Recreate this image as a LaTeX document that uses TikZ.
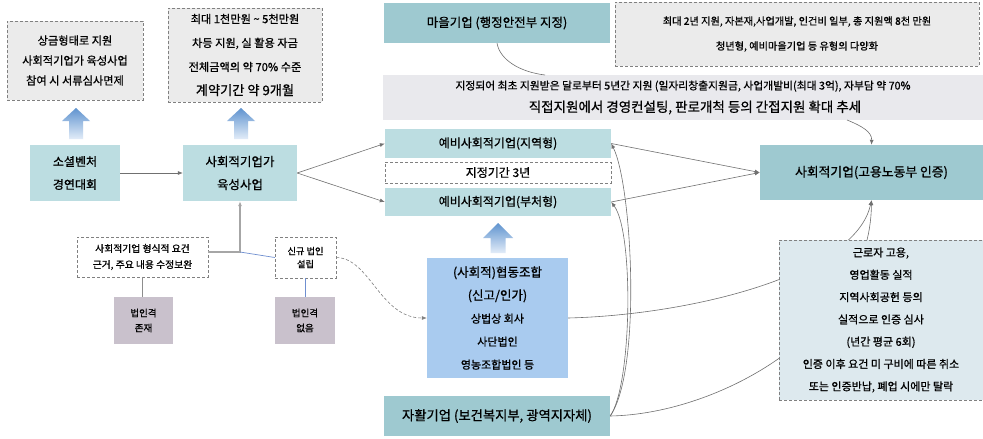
\documentclass[tikz,border=0pt]{standalone}
\usepackage{fontspec}
\setmainfont{Noto Sans CJK KR}[RawFeature={embolden=0.8}]
\usetikzlibrary{arrows.meta}
\definecolor{c-teal1}{HTML}{9EC9D0}
\definecolor{c-teal2}{HTML}{BCDDE1}
\definecolor{c-grey}{HTML}{EBEBEB}
\definecolor{c-banner}{HTML}{E9E9ED}
\definecolor{c-coop}{HTML}{A9CBEF}
\definecolor{c-lbox}{HTML}{DDE9EE}
\definecolor{c-purp}{HTML}{C9C1CC}
\definecolor{c-conn}{HTML}{707070}
\definecolor{c-bline}{HTML}{6F8FD0}
\definecolor{c-thick}{HTML}{A6A6A6}
\definecolor{c-atop}{HTML}{5F93CF}
\definecolor{c-abot}{HTML}{E2ECF8}
\definecolor{c-dash}{HTML}{808080}
\tikzset{
  box/.style={inner sep=0pt, align=center, text=black},
  dbox/.style={box, draw=c-dash, densely dashed, line width=0.5pt},
  link/.style={draw=c-conn, line width=0.6pt},
  arr/.style={-{Latex[length=5pt,width=4pt]}},
  thickline/.style={draw=c-thick, line width=1.6pt},
  blueline/.style={draw=c-bline, line width=0.7pt},
  uparrow/.style={top color=c-atop, bottom color=c-abot}
}
\begin{document}
\begin{tikzpicture}[x=1pt,y=-1pt]
\useasboundingbox (0,0) rectangle (983,439);
\fill[white] (0,0) rectangle (983,439);

% left column
\node[dbox, fill=c-grey, minimum width=136pt, minimum height=79pt, font=\fontsize{11.2}{20}\selectfont] (award) at (75,60.5) {상금형태로 지원\\사회적기업가 육성사업\\참여 시 서류심사면제};
\node[dbox, fill=c-grey, minimum width=154pt, minimum height=94pt, font=\fontsize{11.2}{24}\selectfont] (fund) at (245,55) {최대 1천만원 \textasciitilde{} 5천만원\\차등 지원, 실 활용 자금\\전체금액의 약 70\% 수준\\{\fontsize{13.2}{24}\selectfont 계약기간 약 9개월}};
\node[box, fill=c-teal2, minimum width=90pt, minimum height=56pt, font=\fontsize{12}{23}\selectfont] (sv) at (75,173) {소셜벤처\\경연대회};
\node[box, fill=c-teal2, minimum width=114pt, minimum height=56pt, font=\fontsize{12.5}{23}\selectfont] (yuk) at (240,173) {사회적기업가\\육성사업};
\node[dbox, fill=white, minimum width=131pt, minimum height=40pt, font=\fontsize{9.8}{16}\selectfont] (req) at (142.5,257) {사회적기업 형식적 요건\\근거, 주요 내용 수정보완};
\node[dbox, fill=white, minimum width=61pt, minimum height=41pt, font=\fontsize{9.2}{13}\selectfont] (new) at (305.5,257.5) {신규 법인\\설립};
\node[box, fill=c-purp, minimum width=59pt, minimum height=47pt, font=\fontsize{9.5}{15}\selectfont] (exist) at (143.5,320.5) {법인격\\존재};
\node[box, fill=c-purp, minimum width=60pt, minimum height=47pt, font=\fontsize{9.5}{15}\selectfont] (none) at (305,320.5) {법인격\\없음};

% middle column
\node[box, fill=c-teal1, minimum width=226pt, minimum height=40pt, font=\fontsize{12.5}{15}\selectfont] (maeul) at (497,23) {마을기업 (행정안전부 지정)};
\node[dbox, fill=c-grey, minimum width=364pt, minimum height=64pt, font=\fontsize{10.2}{25}\selectfont] (maeulinfo) at (797,34) {최대 2년 지원, 자본재,사업개발, 인건비 일부, 총 지원액 8천 만원\\청년형, 예비마을기업 등 유형의 다양화};
\node[box, fill=c-banner, minimum width=600pt, minimum height=45pt] (banner) at (683,97.5) {{\fontsize{10.8}{12}\selectfont 지정되어 최초 지원받은 달로부터 5년간 지원 (일자리창출지원금, 사업개발비(최대 3억), 자부담 약 70\%}\\[8pt]{\fontsize{13.5}{21}\selectfont\hspace*{24pt}직접지원에서 경영컨설팅, 판로개척 등의 간접지원 확대 추세}};
\node[box, fill=c-teal2, minimum width=226pt, minimum height=29pt, font=\fontsize{12}{14}\selectfont] (yebi1) at (498,143.5) {예비사회적기업(지역형)};
\node[dbox, fill=white, minimum width=226pt, minimum height=21pt, font=\fontsize{12}{14}\selectfont] (period) at (498,172.5) {지정기간 3년};
\node[box, fill=c-teal2, minimum width=226pt, minimum height=28pt, font=\fontsize{12}{14}\selectfont] (yebi2) at (498,202) {예비사회적기업(부처형)};
\node[box, fill=c-coop, minimum width=141pt, minimum height=120pt, font=\fontsize{11}{23}\selectfont] (coop) at (497.5,318) {{\fontsize{12.5}{25}\selectfont (사회적)협동조합}\\{\fontsize{12.5}{23}\selectfont (신고/인가)}\\상법상 회사\\사단법인\\영농조합법인 등};
\node[box, fill=c-teal1, minimum width=226pt, minimum height=40pt, font=\fontsize{13.3}{15}\selectfont] (jahwal) at (497,416) {자활기업 (보건복지부, 광역지자체)};

% right column
\node[box, fill=c-teal1, minimum width=223pt, minimum height=55pt, font=\fontsize{12.8}{15}\selectfont] (social) at (871.5,172.5) {사회적기업(고용노동부 인증)};

% block arrows
\shade[uparrow] (76,108) -- (90,121) -- (83,121) -- (83,139) -- (69,139) -- (69,121) -- (62,121) -- cycle;
\shade[uparrow] (241,108) -- (255,121) -- (248,121) -- (248,139) -- (234,139) -- (234,121) -- (227,121) -- cycle;
\shade[uparrow] (498,223) -- (513,238) -- (505.5,238) -- (505.5,253) -- (490.5,253) -- (490.5,238) -- (483,238) -- cycle;

% coordinates
\coordinate (jn) at (240,252);
\coordinate (bt) at (545,75);
\coordinate (bs) at (847,120);

% connectors
\draw[link, arr] (sv.east) -- (yuk.west);
\draw[link, arr] (yuk.east) -- (yebi1.west);
\draw[link, arr] (yuk.east) -- (yebi2.west);
\draw[thickline, arr] (req.east |- jn) -- (jn) -- (yuk.south);
\draw[blueline] (jn) -- (new.west);
\draw[thickline, line width=1pt, draw=c-conn!80] (req.south) -- (req.south |- exist.north);
\draw[blueline] (new.south) -- (new.south |- none.north);
\draw[link, densely dashed, draw=c-dash, arr] (new.east) .. controls (370,258) and (380,318) .. (coop.west);
\draw[link] (maeul.south) .. controls (500,60) and (520,72) .. (bt);
\draw[link, arr] (bs) .. controls (862,126) and (872,132) .. (social.north);
\draw[link, arr] (yebi1.east) -- (social.west);
\draw[link, arr] (yebi2.east) -- (social.west);
\draw[link, arr] (jahwal.east) .. controls (632,385) and (634,232) .. (yebi2.east);
\draw[link, arr] (jahwal.east) .. controls (642,370) and (632,185) .. (yebi1.east);
\draw[link, arr] (coop.east) .. controls (690,315) and (855,275) .. (social.south);
\draw[link, arr] (jahwal.east) .. controls (720,414) and (870,330) .. (social.south);

\node[dbox, fill=c-lbox, minimum width=204pt, minimum height=160pt, font=\fontsize{11}{22.3}\selectfont] (cert) at (881,320) {근로자 고용,\\영업활동 실적\\지역사회공헌 등의\\실적으로 인증 심사\\(년간 평균 6회)\\인증 이후 요건 미 구비에 따른 취소\\또는 인증반납, 폐업 시에만 탈락};
\end{tikzpicture}
\end{document}
